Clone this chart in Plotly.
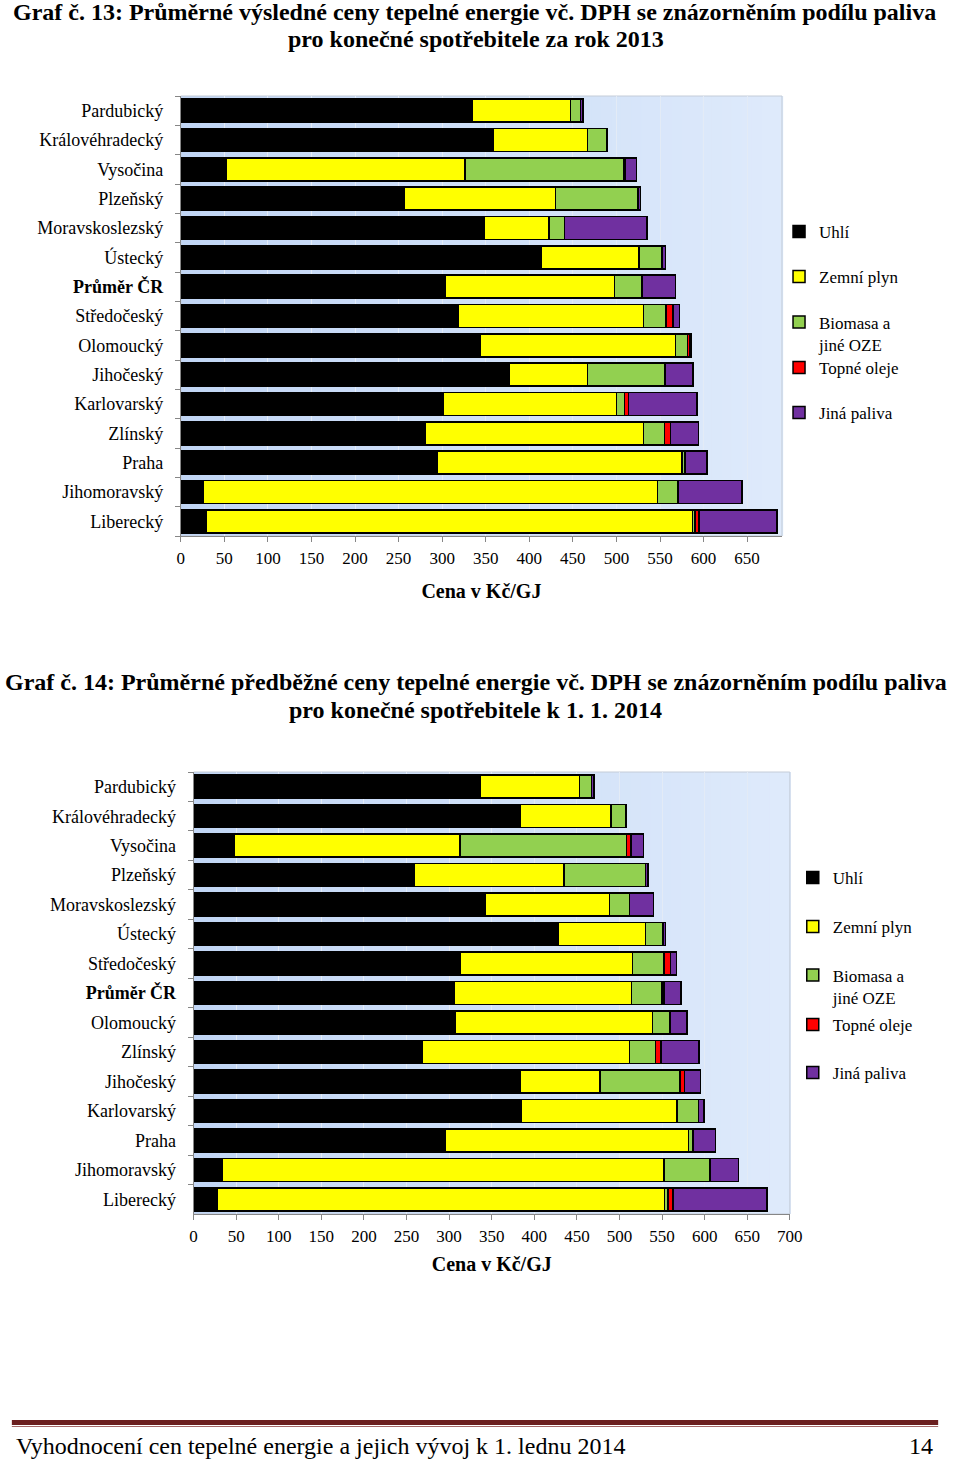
import plotly.graph_objects as go

W, H = 960, 1460

series_names = ["Uhlí", "Zemní plyn", "Biomasa a<br>jiné OZE", "Topné oleje", "Jiná paliva"]
series_colors = ["#000000", "#ffff00", "#92d050", "#ff0000", "#7030a0"]

# Graf č. 13 (rok 2013)
cats_2013 = ["Pardubický", "Královéhradecký", "Vysočina", "Plzeňský", "Moravskoslezský",
             "Ústecký", "Průměr ČR", "Středočeský", "Olomoucký", "Jihočeský",
             "Karlovarský", "Zlínský", "Praha", "Jihomoravský", "Liberecký"]
uhli_2013 = [334, 359, 52, 257, 348, 414, 303.5, 318, 344, 377, 301, 281, 294, 26, 29.5]
plyn_2013 = [113.5, 107.5, 274, 173, 74.5, 112, 194.5, 213, 224, 90, 199, 250, 281, 521, 558]
bio_2013 = [11, 22.5, 182, 94.5, 18, 26.5, 30.5, 26, 13.5, 88, 9, 24, 3, 23.5, 2.5]
oleje_2013 = [0, 0, 2, 0.5, 0, 0, 1, 8, 3, 1, 5, 7, 1, 0, 4.5]
jina_2013 = [3, 0, 13, 2.5, 94.5, 4, 38.5, 7.5, 1.5, 32, 78.5, 32, 24.7, 73.5, 90]

# Graf č. 14 (k 1. 1. 2014)
cats_2014 = ["Pardubický", "Královéhradecký", "Vysočina", "Plzeňský", "Moravskoslezský",
             "Ústecký", "Středočeský", "Průměr ČR", "Olomoucký", "Zlínský",
             "Jihočeský", "Karlovarský", "Praha", "Jihomoravský", "Liberecký"]
uhli_2014 = [336, 383, 48, 259, 342, 428, 313, 306, 307, 268, 383, 385, 296, 33.5, 28]
plyn_2014 = [117, 107, 264.5, 176, 146.5, 102.5, 202.5, 208, 232, 244, 94, 182.5, 285, 518.5, 525]
bio_2014 = [14, 17.5, 196, 95.5, 23, 20.5, 37, 36, 19.5, 30, 94, 25.5, 5.5, 54, 4]
oleje_2014 = [0, 0, 5, 0, 0, 0, 7.5, 2, 1, 7, 5.5, 0, 0.5, 0, 6]
jina_2014 = [3, 0, 14.5, 3, 28.5, 3, 7, 20, 19.5, 44.5, 18.5, 6, 25.5, 34, 110]

x_ticks_2013 = list(range(0, 651, 50))
x_ticks_2014 = list(range(0, 701, 50))

FONT = "Liberation Serif, Times New Roman, serif"

def px_x(v):
    return v / W

def px_y(v):
    return 1 - v / H

fig = go.Figure()

charts = [
    dict(cats=cats_2013, data=[uhli_2013, plyn_2013, bio_2013, oleje_2013, jina_2013],
         xa="x", ya="y", leg0=1),
    dict(cats=cats_2014, data=[uhli_2014, plyn_2014, bio_2014, oleje_2014, jina_2014],
         xa="x2", ya="y2", leg0=6),
]

for ch in charts:
    for i, (name, col, vals) in enumerate(zip(series_names, series_colors, ch["data"])):
        n = ch["leg0"] + i
        fig.add_trace(go.Bar(
            orientation="h", x=vals, y=ch["cats"], name=name,
            marker=dict(color=col, line=dict(color="#000000", width=1.5)),
            width=0.78, xaxis=ch["xa"], yaxis=ch["ya"], showlegend=True,
            legend="legend" if n == 1 else f"legend{n}",
        ))

def ticktext(cats):
    return [f"<b>{c}</b>" if c == "Průměr ČR" else c for c in cats]

x_axis_common = dict(showline=True, linecolor="#868686", linewidth=1,
                     ticks="outside", ticklen=5, tickcolor="#868686",
                     tickfont=dict(family=FONT, size=17, color="#000"))
y_axis_common = dict(showline=True, linecolor="#868686", linewidth=1,
                     ticks="outside", ticklen=5, tickcolor="#868686",
                     tickfont=dict(family=FONT, size=18, color="#000"))

fig.update_layout(
    width=W, height=H, margin=dict(l=0, r=0, t=0, b=0),
    paper_bgcolor="white", plot_bgcolor="rgba(0,0,0,0)",
    barmode="stack", bargap=0.22, showlegend=True,
    font=dict(family=FONT, color="#000"),
    xaxis=dict(domain=[px_x(180), px_x(792)], anchor="y", range=[0, 690],
               tickvals=x_ticks_2013, showgrid=True, gridcolor="#e3ebf6", gridwidth=1,
               zeroline=False, ticklabelstandoff=2,
               title=dict(text="<b>Cena v Kč/GJ</b>", font=dict(family=FONT, size=20), standoff=16),
               **x_axis_common),
    yaxis=dict(domain=[px_y(536), px_y(96)], anchor="x", autorange="reversed",
               tickvals=cats_2013, ticktext=ticktext(cats_2013), tickson="boundaries",
               showgrid=False, ticklabelstandoff=13, **y_axis_common),
    xaxis2=dict(domain=[px_x(193), px_x(800)], anchor="y2", range=[0, 700],
                tickvals=x_ticks_2014, showgrid=True, gridcolor="#e3ebf6", gridwidth=1,
                zeroline=False, ticklabelstandoff=2,
                title=dict(text="<b>Cena v Kč/GJ</b>", font=dict(family=FONT, size=20), standoff=11),
                **x_axis_common),
    yaxis2=dict(domain=[px_y(1214), px_y(772)], anchor="x2", autorange="reversed",
                tickvals=cats_2014, ticktext=ticktext(cats_2014), tickson="boundaries",
                showgrid=False, ticklabelstandoff=13, **y_axis_common),
)

# legends: one per entry so the spacing follows the reference
leg_pos_2013 = [232, 277, 333.5, 368, 413]
leg_pos_2014 = [878, 927, 986.5, 1025, 1073]
for j, ypx in enumerate(leg_pos_2013 + leg_pos_2014):
    n = j + 1
    xpx = 789 if j < 5 else 803
    key = "legend" if n == 1 else f"legend{n}"
    fig.update_layout({key: dict(x=px_x(xpx), y=px_y(ypx), xanchor="left", yanchor="middle",
                                 bgcolor="rgba(0,0,0,0)", borderwidth=0, valign="top",
                                 font=dict(family=FONT, size=17, color="#000"))})

# plot area gradient background
shapes = []
N = 60
c0 = (194, 214, 245)
c1 = (222, 234, 251)
for xa, ya in [("x", "y"), ("x2", "y2")]:
    for k in range(N):
        t = k / (N - 1)
        c = tuple(round(a + (b - a) * t) for a, b in zip(c0, c1))
        shapes.append(dict(type="rect", xref=f"{xa} domain", yref=f"{ya} domain",
                           x0=k / N, x1=(k + 1) / N + 0.002, y0=0, y1=1,
                           fillcolor=f"rgb{c}", line=dict(width=0), layer="below"))
    shapes.append(dict(type="rect", xref=f"{xa} domain", yref=f"{ya} domain",
                       x0=0, x1=1, y0=0, y1=1, fillcolor="rgba(0,0,0,0)",
                       line=dict(color="#c4ccd8", width=1), layer="below"))

# footer rule
shapes.append(dict(type="rect", xref="paper", yref="paper", x0=px_x(8), x1=px_x(951),
                   y0=px_y(1425), y1=px_y(1420), fillcolor="#6b1f1f", line=dict(width=0)))
shapes.append(dict(type="line", xref="paper", yref="paper", x0=px_x(8), x1=px_x(951),
                   y0=px_y(1426.5), y1=px_y(1426.5), line=dict(color="#a56a6a", width=1)))
fig.update_layout(shapes=shapes)

def text_ann(text, x, y, size, xanchor="center", bold=False):
    return dict(text=f"<b>{text}</b>" if bold else text, x=px_x(x), y=px_y(y),
                xref="paper", yref="paper", xanchor=xanchor, yanchor="middle",
                showarrow=False, font=dict(family=FONT, size=size, color="#000"))

annotations = [
    text_ann("Graf č. 13: Průměrné výsledné ceny tepelné energie vč. DPH se znázorněním podílu paliva",
             479, 12, 24, bold=True),
    text_ann("pro konečné spotřebitele za rok 2013", 480, 39, 24, bold=True),
    text_ann("Graf č. 14: Průměrné předběžné ceny tepelné energie vč. DPH se znázorněním podílu paliva",
             480, 682, 24, bold=True),
    text_ann("pro konečné spotřebitele k 1. 1. 2014", 480, 710, 24, bold=True),
    text_ann("Vyhodnocení cen tepelné energie a jejich vývoj k 1. lednu 2014", 10, 1446, 24,
             xanchor="left"),
    text_ann("14", 948, 1446, 24, xanchor="right"),
]
fig.update_layout(annotations=annotations)

fig.write_html("out.html")
